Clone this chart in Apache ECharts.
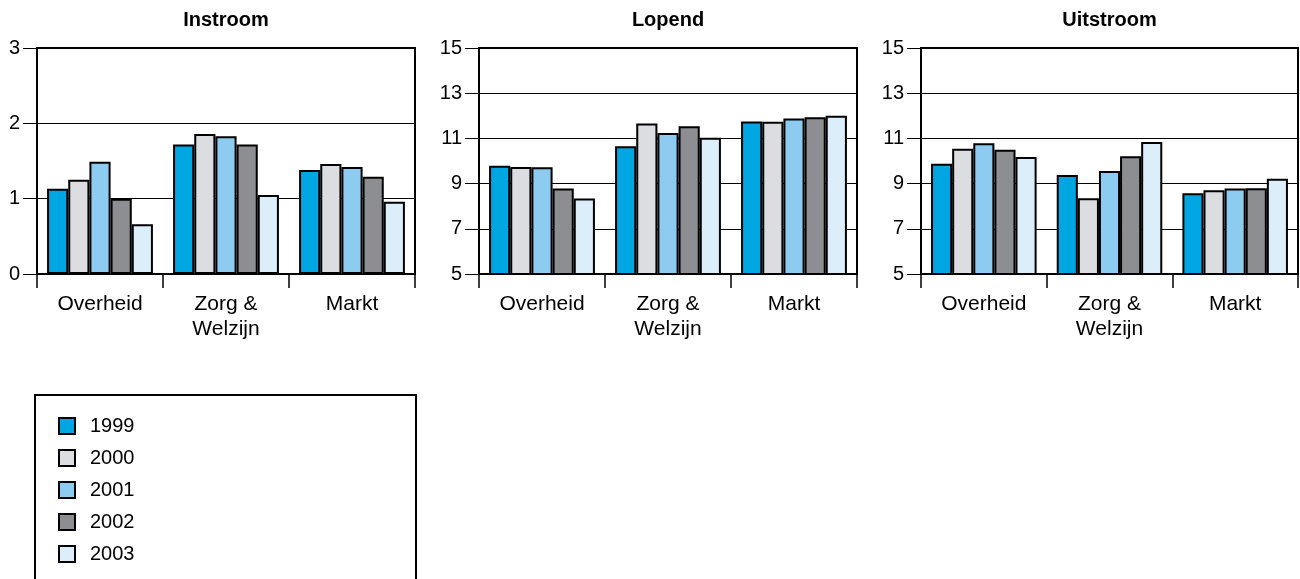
<!DOCTYPE html>
<html><head><meta charset="utf-8">
<script src="https://cdn.jsdelivr.net/npm/echarts@6/dist/echarts.min.js"></script>
<style>html,body{margin:0;padding:0;background:#fff}#c{width:1300px;height:579px}</style>
</head><body><div id="c"></div>
<script>
var categories = ['Overheid', 'Zorg &\nWelzijn', 'Markt'];
var years = ['1999', '2000', '2001', '2002', '2003'];
var panelTitles = ['Instroom', 'Lopend', 'Uitstroom'];
var colors = ['#00a6e2', '#dcdde0', '#8ecbf0', '#8c8e91', '#ddeefb'];
// values per panel, per year: [Overheid, Zorg & Welzijn, Markt]
var instroom = [
  [1.13, 1.72, 1.38],
  [1.25, 1.86, 1.46],
  [1.49, 1.83, 1.42],
  [1.00, 1.72, 1.29],
  [0.66, 1.05, 0.96]
];
var lopend = [
  [9.79, 10.65, 11.75],
  [9.74, 11.66, 11.74],
  [9.72, 11.24, 11.88],
  [8.78, 11.54, 11.94],
  [8.34, 11.03, 12.00]
];
var uitstroom = [
  [9.88, 9.38, 8.57],
  [10.54, 8.35, 8.71],
  [10.78, 9.56, 8.78],
  [10.50, 10.21, 8.79],
  [10.18, 10.84, 9.22]
];
var yRanges = [[0, 3, 1], [5, 15, 2], [5, 15, 2]];
var panels = [instroom, lopend, uitstroom];

var FONT = 'Liberation Sans, Arial, sans-serif';
var gridBoxes = [
  {left: 37, width: 378},
  {left: 479, width: 378},
  {left: 921, width: 377}
];
var grids = [], xAxes = [], yAxes = [], titles = [], series = [];
gridBoxes.forEach(function (g, i) {
  grids.push({left: g.left, width: g.width, top: 48, height: 226, show: true,
    borderColor: '#000', borderWidth: 2, backgroundColor: 'transparent'});
  titles.push({text: panelTitles[i], left: g.left + g.width / 2, top: 10, padding: 0, textAlign: 'center',
    textStyle: {fontFamily: FONT, fontSize: 20, fontWeight: 'bold', color: '#000'}});
  xAxes.push({type: 'category', gridIndex: i, data: categories,
    axisLine: {show: true, lineStyle: {color: '#000', width: 2}},
    axisTick: {show: true, length: 14, lineStyle: {color: '#000', width: 1.5}},
    axisLabel: {color: '#000', fontFamily: FONT, fontSize: 21, lineHeight: 25, margin: 18},
    splitLine: {show: false}});
  yAxes.push({type: 'value', gridIndex: i, min: yRanges[i][0], max: yRanges[i][1], interval: yRanges[i][2],
    axisLine: {show: true, lineStyle: {color: '#000', width: 2}},
    axisTick: {show: true, length: 14, lineStyle: {color: '#000', width: 1}},
    axisLabel: {color: '#000', fontFamily: FONT, fontSize: 20, margin: 17},
    splitLine: {show: true, lineStyle: {color: '#000', width: 1}}});
  years.forEach(function (y, k) {
    series.push({type: 'bar', name: y, xAxisIndex: i, yAxisIndex: i, data: panels[i][k],
      barGap: '0%', barCategoryGap: '16%',
      itemStyle: {color: colors[k], borderColor: '#000', borderWidth: 2},
      emphasis: {disabled: true}, animation: false});
  });
});

var chart = echarts.init(document.getElementById('c'), null, {renderer: 'canvas'});
chart.setOption({
  animation: false,
  title: titles,
  grid: grids,
  xAxis: xAxes,
  yAxis: yAxes,
  series: series,
  legend: {data: years, orient: 'vertical', left: 58, top: 416, padding: 0, icon: 'rect',
    itemWidth: 16, itemHeight: 16, itemGap: 12, height: 200,
    textStyle: {fontFamily: FONT, fontSize: 20, lineHeight: 20, color: '#000', padding: [0, 0, 0, 10]}},
  graphic: [{type: 'rect', shape: {x: 35, y: 395, width: 381, height: 200},
    style: {fill: 'none', stroke: '#000', lineWidth: 2}, silent: true}]
});
</script></body></html>
